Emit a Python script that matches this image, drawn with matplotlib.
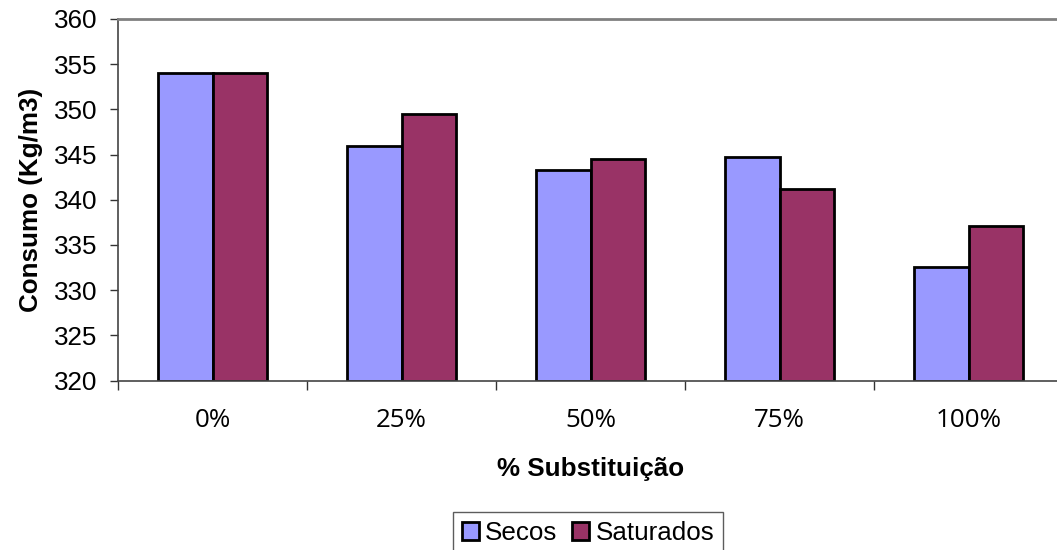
import matplotlib
matplotlib.use("Agg")
import matplotlib.pyplot as plt
import numpy as np
from matplotlib.patches import Patch

categories = ["0%", "25%", "50%", "75%", "100%"]
secos = [354.0, 345.9, 343.3, 344.7, 332.6]
saturados = [354.0, 349.5, 344.5, 341.2, 337.1]
series_names = ["Secos", "Saturados"]
colors = ["#9999FF", "#993366"]

plt.rcParams["font.family"] = ["Liberation Sans", "DejaVu Sans"]
FS = 18.7

fig = plt.figure(figsize=(10.57, 5.5), dpi=100)
ax = fig.add_axes([118 / 1057, (550 - 380.5) / 550, 945 / 1057, (380.5 - 19) / 550])

x = np.arange(len(categories))
w = 0.288
ax.bar(x - w / 2, np.array(secos) - 320, w, bottom=320, color=colors[0],
       edgecolor="black", linewidth=2.0)
ax.bar(x + w / 2, np.array(saturados) - 320, w, bottom=320, color=colors[1],
       edgecolor="black", linewidth=2.0)

ax.set_xlim(-0.5, len(categories) - 0.5)
ax.set_ylim(320, 360)
ax.set_yticks(np.arange(320, 361, 5))
ax.tick_params(axis="y", direction="out", length=6, width=1, labelsize=FS, pad=9,
               color="#333333")

# category boundaries carry the tick marks, labels sit at the centres
ax.set_xticks(np.arange(-0.5, len(categories), 1.0))
ax.set_xticklabels([])
ax.set_xticks(x, minor=True)
ax.set_xticklabels(categories, minor=True, fontfamily="Open Sans")
ax.tick_params(axis="x", which="major", direction="out", length=6.5, width=1,
               color="#333333")
ax.tick_params(axis="x", which="minor", length=0, labelsize=FS, pad=20)

for s in ["left", "bottom"]:
    ax.spines[s].set_color("#444444")
    ax.spines[s].set_linewidth(1.2)
ax.spines["top"].set_color("#808080")
ax.spines["top"].set_linewidth(2)
ax.spines["right"].set_visible(False)

ax.set_ylabel("Consumo (Kg/m3)", fontsize=FS, fontweight="bold", labelpad=8)
ax.set_xlabel("% Substituição", fontsize=FS, fontweight="bold", labelpad=17)

handles = [Patch(facecolor=c, edgecolor="black", linewidth=2.0, label=n)
           for c, n in zip(colors, series_names)]
leg = fig.legend(handles=handles, loc="upper center",
                 bbox_to_anchor=(588 / 1057, 1 - 512 / 550),
                 ncol=2, fontsize=FS, frameon=True, fancybox=False,
                 handlelength=0.66, handleheight=0.7, handletextpad=0.25,
                 columnspacing=0.55, borderpad=0.35, borderaxespad=0)
leg.get_frame().set_edgecolor("#333333")
leg.get_frame().set_linewidth(1)

fig.savefig("out.png", dpi=100)
